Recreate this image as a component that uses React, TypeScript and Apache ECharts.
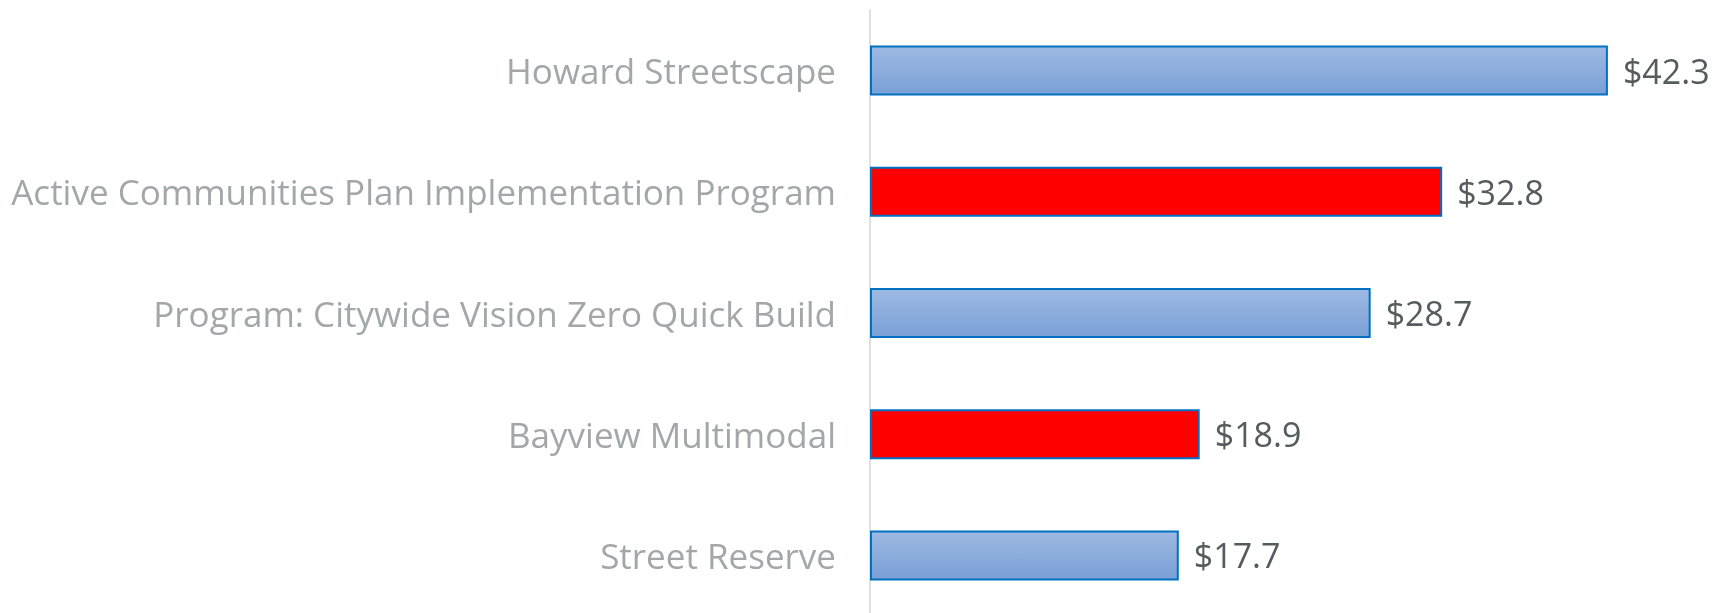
import React, { useEffect, useRef } from "react";
import * as echarts from "echarts";

const categories = [
  "Howard Streetscape",
  "Active Communities Plan Implementation Program",
  "Program: Citywide Vision Zero Quick Build",
  "Bayview Multimodal",
  "Street Reserve",
];
const values = [42.3, 32.8, 28.7, 18.9, 17.7];
const highlighted = [false, true, false, true, false];

export default function App() {
  const ref = useRef<HTMLDivElement>(null);
  useEffect(() => {
    const chart = echarts.init(ref.current!, null, { renderer: "svg" });
    const blueFill = new echarts.graphic.LinearGradient(0, 0, 0, 1, [
      { offset: 0, color: "#9eb9e2" },
      { offset: 1, color: "#7aa0d6" },
    ]);
    chart.setOption({
      animation: false,
      grid: { left: 870, right: 64, top: 10, bottom: 4 },
      xAxis: {
        type: "value",
        min: 0,
        max: 45,
        show: false,
      },
      yAxis: {
        type: "category",
        inverse: true,
        data: categories,
        axisLine: { show: true, lineStyle: { color: "#e0e0e0", width: 2 } },
        axisTick: { show: false },
        axisLabel: {
          color: "#a3a7a8",
          fontSize: 35,
          fontFamily: "Open Sans",
          margin: 34,
        },
      },
      series: [
        {
          type: "bar",
          barWidth: 50,
          data: values.map((v, i) => ({
            value: v,
            itemStyle: {
              color: highlighted[i] ? "#ff0000" : blueFill,
              borderColor: "#0070c0",
              borderWidth: 2,
            },
          })),
          label: {
            show: true,
            position: "right",
            distance: 15,
            color: "#555c5e",
            fontSize: 34,
            fontFamily: "Open Sans",
            formatter: (p: any) => "$" + Number(p.value).toFixed(1),
          },
        },
      ],
    });
    return () => chart.dispose();
  }, []);
  return (
    <div
      ref={ref}
      style={{ position: "fixed", left: 0, top: 0, width: 1719, height: 620 }}
    />
  );
}
